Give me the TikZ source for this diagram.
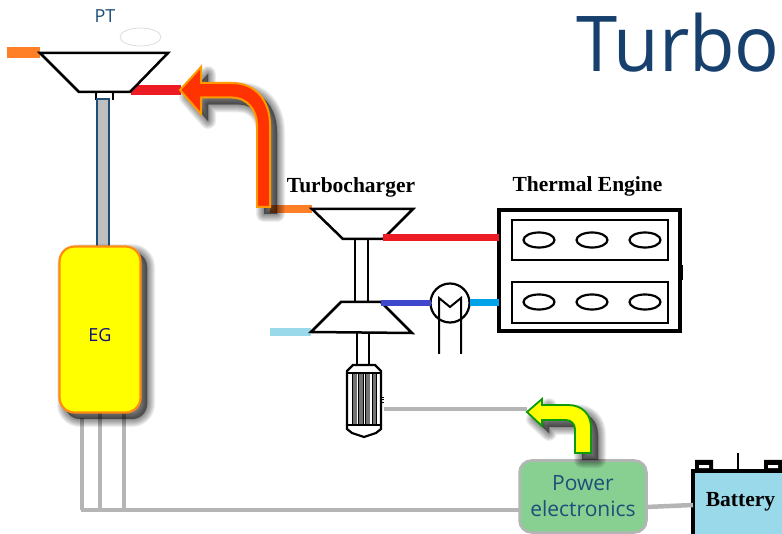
\documentclass[tikz,border=0pt]{standalone}
\usepackage{fontspec}
\setmainfont{Open Sans}
\newfontfamily\serifb{Liberation Serif}[Ligatures=TeX]
\usetikzlibrary{calc,shapes.geometric}
\definecolor{titleblue}{HTML}{17406D}
\definecolor{labelblue}{HTML}{1F4E79}
\definecolor{wiregray}{HTML}{B5B5B5}
\definecolor{flamered}{HTML}{FF3300}
\definecolor{flameedge}{HTML}{FF9900}
\definecolor{hotred}{HTML}{ED1C24}
\definecolor{exhaust}{HTML}{FF7F27}
\definecolor{coldblue}{HTML}{99D9EA}
\definecolor{midblue}{HTML}{3F48CC}
\definecolor{cyanline}{HTML}{00A2E8}
\definecolor{pegreen}{HTML}{88CF92}
\definecolor{shaftblue}{HTML}{1F4E79}
\definecolor{egorange}{HTML}{FF8C10}
\definecolor{arrowgreen}{HTML}{0A9A0A}
\definecolor{pureyellow}{HTML}{FFFF00}
\definecolor{navytext}{HTML}{10107F}
\tikzset{
  every node/.style={outer sep=0pt},
  mach/.style={draw=black,line width=2.5pt,fill=white,line join=miter},
  wire/.style={draw=wiregray,line width=4.5pt},
  pipe/.style={line width=#1,line cap=butt},
  pipe/.default=7pt,
  sideLabel/.style={font=\serifb\bfseries\fontsize{21.5}{23}\selectfont,inner sep=0pt,text=black},
  shadowlayer/.style={draw=black,fill=black,draw opacity=.065,fill opacity=.065,line join=round},
}
\newcommand{\softshadow}[2]{%
  \begin{scope}[shift={#1}]
    \foreach \w in {16,14,12,10,8,6,4,2,0.5}{\path[shadowlayer,line width=\w pt] #2;}
  \end{scope}}
\begin{document}
\begin{tikzpicture}[x=1pt,y=-1pt]
\useasboundingbox (0,0) rectangle (782,534);
\clip (0,0) rectangle (782,534);
\fill[white] (0,0) rectangle (782,534);

% ---- title
\node[anchor=base west,inner sep=0pt,text=titleblue,font=\fontsize{77}{80}\selectfont,xscale=.965,transform shape] (title) at (576,72) {Turbo};

% ---- PT
\node[text=labelblue,font=\fontsize{18}{20}\selectfont,inner sep=0pt] (ptl) at (105,16) {PT};
\node[draw=black!15,line width=.7pt,ellipse,minimum width=41pt,minimum height=18pt,inner sep=0pt] (halo) at (140.5,37) {};
\coordinate (ptIn) at (40,53);
\coordinate (ptOutL) at (7,53);
\coordinate (ptOut) at (131,90);
\coordinate (redEnd) at (181,90);
\draw[exhaust,pipe=11pt] (ptOutL) -- (ptIn);
\draw[hotred,pipe=10pt] (ptOut) -- (redEnd);
\draw[black,line width=2.5pt] (96,91) -- (96,100) (113,91) -- (113,100);
\draw[mach] (ptIn) -- (168,53) -- (130,92) -- (79,92) -- cycle;
\fill[white] (98,93.5) rectangle (111,98);

% ---- shaft PT to EG
\coordinate (shaftT) at (103,99);
\coordinate (shaftB) at (103,247);
\draw[shaftblue,line width=2.6pt,fill=black!25] ($(shaftT)+(-6,0)$) rectangle ($(shaftB)+(6,0)$);

% ---- wires from EG
\coordinate (busL) at (81,510);
\coordinate (w1) at (82,418);
\coordinate (w2) at (100,413);
\coordinate (w3) at (124,413);
\draw[wire] (w1) -- (w1 |- busL);
\draw[wire] (w2) -- (w2 |- busL);
\draw[wire] (w3) -- (w3 |- busL);

% ---- EG
\softshadow{(6,6)}{[rounded corners=15pt] (59,246) rectangle (141,413)}
\node[draw=egorange,line width=2.2pt,fill=pureyellow,rounded corners=15pt,minimum width=81pt,minimum height=166pt,inner sep=0pt] (eg) at (100,329.5) {};
\node[inner sep=0pt,text=navytext,font=\fontsize{18}{20}\selectfont] (egl) at (100,335) {EG};

% ---- Turbocharger
\node[sideLabel] (tcl) at (351,187) {Turbocharger};
\coordinate (tcIn) at (312,209);
\coordinate (tcInL) at (270,209);
\coordinate (tcOut) at (383,237.5);
\coordinate (compOut) at (381,303);
\coordinate (compIn) at (311,332);
\coordinate (compInL) at (270,332);
\draw[exhaust,pipe=8pt] (tcInL) -- (tcIn);
\draw[coldblue,pipe=8pt] (compInL) -- (compIn);
\draw[mach,fill=white] (355,238) rectangle (368,303);
\draw[mach] (tcIn) -- (413,209) -- (383,239) -- (343,239) -- cycle;
\draw[mach] (341,302) -- (381,302) -- (412,333) -- (compIn) -- cycle;
\draw[black,line width=2.5pt] (357,333) -- (357,364) (369,333) -- (369,364);

% ---- motor
\foreach \x in {352,358.5,365.5,372}{\fill[black!55] (\x,374) rectangle (\x+4.5,425);}
\foreach \x in {352,358.5,363,365.5,372,376.5}{\draw[black,line width=.8pt] (\x,374) -- (\x,425);}
\draw[black,line width=2.2pt] (347,371) -- (347,429) -- (352,433) -- (364,437) -- (376,433) -- (381,429) -- (381,371) -- (375,365) -- (353,365) -- cycle;
\draw[black,line width=2pt] (347,373.5) -- (381,373.5) (347,425.5) -- (381,425.5);
\draw[black,line width=.6pt] (381,397) -- (384,397) (381,399.5) -- (384,399.5) (381,402) -- (384,402);
\coordinate (motorW) at (384,409);

% ---- engine
\node[sideLabel] (tel) at (587.5,186.5) {Thermal Engine};
\node[draw=black,line width=4pt,minimum width=181pt,minimum height=121pt,inner sep=0pt] (eng) at (589.5,270.5) {};
\node[draw=black,line width=2.8pt,minimum width=156pt,minimum height=40pt,inner sep=0pt] (bank1) at (590,240) {};
\node[draw=black,line width=2.8pt,minimum width=156pt,minimum height=41pt,inner sep=0pt] (bank2) at (590,302.5) {};
\foreach \n/\x in {a/539,b/592,c/645}{
  \node[draw=black,line width=2.2pt,ellipse,minimum width=31pt,minimum height=15pt,inner sep=0pt] (cyl1\n) at (\x,240) {};
  \node[draw=black,line width=2.2pt,ellipse,minimum width=31pt,minimum height=15pt,inner sep=0pt] (cyl2\n) at (\x,302) {};
}
\draw[black,line width=1.5pt] (682.5,265) -- (682.5,280);

% ---- intercooler
\node[draw=black,line width=2.2pt,circle,minimum size=39pt,inner sep=0pt,fill=white] (ic) at (450,303) {};
\draw[hotred,pipe=7pt] (tcOut) -- (tcOut -| eng.west);
\draw[midblue,pipe=6.5pt] (compOut) -- (ic.west);
\draw[cyanline,pipe=7pt] (ic.east) -- (ic.east -| eng.west);
\draw[black,line width=2pt,line join=miter] (439,354) -- (439,298) -- (450,307) -- (461,298) -- (461,354);

% ---- power electronics, battery
\node[draw=wiregray,line width=2.5pt,fill=pegreen,rounded corners=12pt,minimum width=127pt,minimum height=72pt,inner sep=0pt,align=center,text=labelblue,font=\fontsize{21}{26}\selectfont] (pe) at (583,496.5) {Power\\electronics};
\fill[black] (695,460) rectangle (713,472) (764,460) rectangle (785,472);
\fill[white] (699,465) rectangle (709,468) (768,465) rectangle (778,468);
\node[draw=black,line width=4.5pt,fill=coldblue,anchor=north west,minimum width=110pt,minimum height=80pt,inner sep=0pt] (bat) at (693,471) {};
\node[sideLabel] (batl) at (740.5,501.5) {Battery};
\coordinate (batTop) at (738,453);
\draw[black,line width=1.2pt] (batTop) -- (738,470);
\draw[wire] (busL) -- (busL -| pe.west);
\draw[wire] (pe.east |- 0,507) -- (bat.west |- 0,505);
\coordinate (wireEnd) at (527,409);
\draw[wire] (motorW) -- (wireEnd);

% ---- red arrow
\def\redarrow{(270,207) -- (270,125) .. controls (270,100) and (255,83) .. (232,83) -- (201,83) -- (201,67) -- (180,90) -- (201,114) -- (201,97.5) -- (232,97.5) .. controls (247,97.5) and (257,110) .. (257,125) -- (257,207) -- cycle}
\softshadow{(7,7)}{\redarrow}
\draw[fill=flamered,draw=flameedge,line width=2pt,line join=miter] \redarrow;

% ---- yellow arrow
\def\yelarrow{(591,453) -- (591,428) .. controls (591,414) and (582,405) .. (568,405) -- (542,405) -- (542,399) -- (527,412) -- (542,426) -- (542,420) -- (566,420) .. controls (571,420) and (575,424) .. (575,429) -- (575,453) -- cycle}
\softshadow{(7,7)}{\yelarrow}
\draw[fill=pureyellow,draw=arrowgreen,line width=1.8pt,line join=miter] \yelarrow;
\end{tikzpicture}
\end{document}
